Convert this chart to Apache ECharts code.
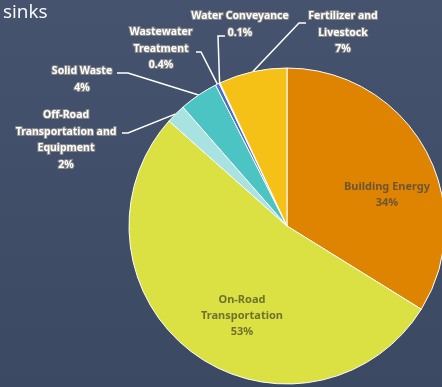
<!DOCTYPE html>
<html>
<head>
<meta charset="utf-8">
<script src="https://cdn.jsdelivr.net/npm/echarts@6/dist/echarts.min.js"></script>
<style>
html,body{margin:0;padding:0;background:#3f4d68;}
#chart{width:442px;height:387px;}
</style>
</head>
<body>
<div id="chart"></div>
<script>
var categories = ['Building Energy','On-Road Transportation','Off-Road Transportation and Equipment','Solid Waste','Wastewater Treatment','Water Conveyance','Fertilizer and Livestock'];
var displayNames = ['Building Energy','On-Road\nTransportation','Off-Road\nTransportation and\nEquipment','Solid Waste','Wastewater\nTreatment','Water Conveyance','Fertilizer and\nLivestock'];
var values = [34,53,2,4,0.4,0.1,7];
var percentLabels = ['34%','53%','2%','4%','0.4%','0.1%','7%'];
var colors = ['#de8400','#dbe043','#a8e2e1','#4bc4c3','#4770c6','#8f8cc9','#f6c117'];

// label anchor placements (annotation layout)
var labelPlace = [
  {x:387, y:179, inside:true},
  {x:242, y:292, inside:true},
  {x:66, y:107, line:[[128,133],[122,133]]},
  {x:82, y:63, line:[[128,73],[117,73]]},
  {x:161, y:24, line:[[201,52],[196,52]]},
  {x:240, y:8, line:[[218,36],[225,36]]},
  {x:343, y:8, line:[[299,23],[306,23]]}
];

var chart = echarts.init(document.getElementById('chart'), null, {renderer:'canvas'});
var outerLabel = {
  show:true, position:'outside', color:'#ffffff', fontFamily:'Noto Sans', fontWeight:'bold',
  fontSize:10.5, lineHeight:16.5, align:'center', textBorderColor:'#858585', textBorderWidth:2
};
var innerLabel = {
  show:true, position:'inside', color:'#6a6a44', fontFamily:'Noto Sans', fontWeight:'bold',
  fontSize:11, lineHeight:16, align:'center'
};
var data = categories.map(function(c,i){
  var inside = labelPlace[i].inside;
  return {
    name:c, value:values[i],
    itemStyle:{color:colors[i]},
    label: Object.assign({}, inside ? innerLabel : outerLabel, {
      formatter: displayNames[i] + '\n' + percentLabels[i],
      color: inside ? (i===0 ? '#6e5634' : '#6f722f') : '#ffffff'
    }),
    labelLine:{show:!inside, lineStyle:{color:'#ffffff', width:1.5}}
  };
});
chart.setOption({
  backgroundColor:{type:'linear',x:0,y:0,x2:0,y2:1,colorStops:[{offset:0,color:'#45536f'},{offset:1,color:'#3c4962'}]},
  title:{text:'sinks', left:-2, top:-2, textStyle:{color:'#ffffff', fontSize:19, fontWeight:'normal', fontFamily:'Open Sans'}},
  series:[{
    type:'pie', center:[287,226], radius:158, startAngle:90, clockwise:true,
    animation:false, avoidLabelOverlap:false,
    itemStyle:{borderColor:'#ffffff', borderWidth:1},
    data:data,
    labelLayout:function(p){
      var pl = labelPlace[p.dataIndex];
      var r = {x:pl.x, y:pl.y, align:'center', verticalAlign:'top'};
      if (!pl.inside && p.labelLinePoints) {
        r.labelLinePoints = [p.labelLinePoints[0], pl.line[0], pl.line[1]];
      }
      return r;
    }
  }]
});
</script>
</body>
</html>
